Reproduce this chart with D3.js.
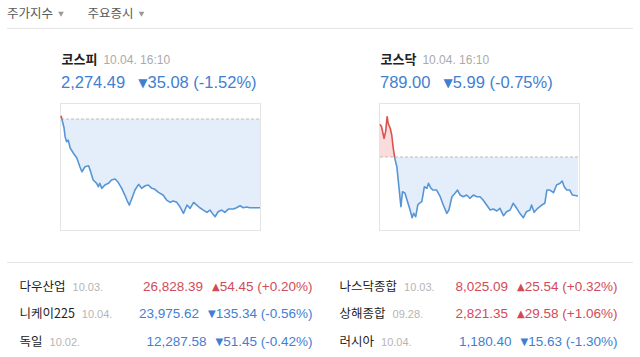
<!DOCTYPE html>
<html><head><meta charset="utf-8">
<script src="https://cdn.jsdelivr.net/npm/d3@7/dist/d3.min.js"></script>
<style>
body{margin:0;background:#fff;}
svg{display:block;font-family:"Liberation Sans","Noto Sans CJK KR",Arial,sans-serif;}
</style>
</head><body>
<svg id="c" width="640" height="357"></svg>
<script>
// ---------- data ----------
const menuLabels = ["주가지수", "주요증시"];

const indexNames = ["코스피", "코스닥"];
const indexTimes = ["10.04. 16:10", "10.04. 16:10"];
const indexValues = [2274.49, 789.00];
const indexChanges = [-35.08, -5.99];
const indexPercents = [-1.52, -0.75];

// minutes since 09:00 and index level
const kospiMinutes = [0,3,6,8,11,14,18,24,31,37,41,47,54,57,63,70,73,76,80,86,93,99,106,112,119,125,130,134,139,145,152,158,165,171,178,184,191,200,207,214,220,227,233,240,247,253,260,266,272,279,286,292,298,302,308,315,321,328,338,344,351,357,364,370,390];
const kospiSeries = [2310.88,2308.50,2306.01,2302.57,2300.59,2301.26,2298.10,2296.12,2294.15,2290.71,2288.73,2290.71,2291.10,2289.40,2285.45,2284.14,2282.80,2284.14,2282.16,2283.47,2284.14,2285.45,2285.84,2284.54,2282.16,2279.51,2277.14,2275.56,2278.21,2281.49,2283.74,2282.16,2283.19,2283.47,2282.16,2281.77,2280.58,2279.51,2277.53,2276.63,2277.14,2276.63,2274.89,2272.28,2275.56,2274.25,2276.63,2275.56,2274.49,2273.58,2272.67,2273.58,2271.88,2270.93,2272.91,2273.58,2272.67,2273.98,2273.98,2274.49,2275.28,2274.49,2274.77,2274.49,2274.49];
const kospiDomain = [2265.3, 2315.5];

const kosdaqMinutes = [0,3,8,11,14,16,20,23,26,29,33,36,41,44,49,54,59,63,66,70,74,77,82,87,92,95,100,104,111,118,124,131,135,141,147,152,157,163,170,176,183,190,196,202,209,216,222,229,235,242,248,255,261,268,274,281,287,294,297,302,309,317,323,327,333,340,346,353,357,361,366,372,377,388];
const kosdaqSeries = [800.01,799.64,797.86,798.88,801.18,800.17,799.40,798.37,796.33,794.79,793.50,791.20,787.36,789.66,789.42,788.13,786.85,785.67,786.34,785.82,787.62,787.88,788.13,790.43,790.18,790.95,790.18,789.92,789.92,788.89,787.62,786.34,786.85,788.89,789.42,789.92,789.15,788.89,789.15,788.65,789.15,788.89,788.89,788.39,787.62,786.85,787.00,786.70,787.11,785.98,786.59,786.85,787.88,787.11,786.34,785.67,786.59,786.85,787.62,786.50,787.11,787.62,787.88,789.92,789.92,789.51,790.69,790.95,791.30,790.43,789.92,789.92,789.15,789.00];
const kosdaqDomain = [783.63, 803.13];

const worldNames = ["다우산업", "니케이225", "독일", "나스닥종합", "상해종합", "러시아"];
const worldDates = ["10.03.", "10.04.", "10.02.", "10.03.", "09.28.", "10.04."];
const worldValues = [26828.39, 23975.62, 12287.58, 8025.09, 2821.35, 1180.40];
const worldChanges = [54.45, -135.34, -51.45, 25.54, 29.58, -15.63];
const worldPercents = [0.20, -0.56, -0.42, 0.32, 1.06, -1.30];

// ---------- style ----------
const RED = "#d14b57", BLUE = "#3f80d2";
const LINE_BLUE = "#5796d6", FILL_BLUE = "#e3eefa";
const LINE_RED = "#d9534f", FILL_RED = "#fbdcdc";
const fmtVal = d3.format(",.2f"), fmtChg = d3.format(".2f");
const fmtPct = v => (v > 0 ? "+" : v < 0 ? "-" : "") + Math.abs(v).toFixed(2);

const svg = d3.select("#c");

// header menu
const menuX = [7, 87.5];
menuLabels.forEach((m, i) => {
  const t = svg.append("text").attr("x", menuX[i]).attr("y", 18)
    .attr("font-size", 12.5).attr("fill", "#5a5a5a").text(m);
  const w = t.node().getComputedTextLength();
  svg.append("path")
    .attr("d", d3.symbol(d3.symbolTriangle, 14)())
    .attr("transform", `translate(${menuX[i] + w + 8},13.5) rotate(180)`)
    .attr("fill", "#999");
});
svg.append("line").attr("x1", 7).attr("x2", 633).attr("y1", 28.5).attr("y2", 28.5)
  .attr("stroke", "#e6e6e6");

// index panels
const panels = [
  {minutes: kospiMinutes, series: kospiSeries, domain: kospiDomain, x0: 60},
  {minutes: kosdaqMinutes, series: kosdaqSeries, domain: kosdaqDomain, x0: 379}
];
const boxTop = 104, boxH = 127, boxW = 201;

panels.forEach((p, i) => {
  const g = svg.append("g");
  const tx = p.x0 + 1.5;
  const title = g.append("text").attr("x", tx).attr("y", 64)
    .attr("font-size", 13).attr("font-weight", "bold").attr("fill", "#222")
    .attr("font-family", "Noto Sans CJK KR").text(indexNames[i]);
  const tw = title.node().getComputedTextLength();
  g.append("text").attr("x", tx + tw + 6).attr("y", 64)
    .attr("font-size", 12).attr("fill", "#aaa").text(indexTimes[i]);
  const up = indexChanges[i] >= 0;
  const col = up ? RED : BLUE;
  const vt = g.append("text").attr("x", tx - 0.5).attr("y", 87.5)
    .attr("font-size", 16.5).attr("fill", col);
  vt.append("tspan").text(fmtVal(indexValues[i]));
  vt.append("tspan").attr("dx", 13).attr("font-size", 12).attr("dy", -1)
    .attr("font-family", "DejaVu Sans").text(up ? "▲" : "▼");
  vt.append("tspan").attr("dy", 1).text(fmtChg(Math.abs(indexChanges[i])) + " (" +
    fmtPct(indexPercents[i]) + "%)");

  g.append("rect").attr("x", p.x0 + 0.5).attr("y", boxTop - 0.5)
    .attr("width", boxW - 1).attr("height", boxH).attr("fill", "#fff")
    .attr("stroke", "#e4e4e4");

  const x = d3.scaleLinear().domain([0, 390]).range([p.x0 + 1, p.x0 + 200]);
  const y = d3.scaleLinear().domain(p.domain).range([boxTop + boxH, boxTop]);
  const prev = indexValues[i] - indexChanges[i];
  const yb = y(prev);
  const data = p.minutes.map((m, k) => [m, p.series[k]]);

  const idA = "ca" + i, idB = "cb" + i;
  const defs = g.append("defs");
  defs.append("clipPath").attr("id", idA).append("rect")
    .attr("x", p.x0).attr("y", boxTop - 2).attr("width", boxW).attr("height", yb - boxTop + 2);
  defs.append("clipPath").attr("id", idB).append("rect")
    .attr("x", p.x0).attr("y", yb).attr("width", boxW).attr("height", boxTop + boxH - yb + 2);

  const area = d3.area().x(d => x(d[0])).y0(yb).y1(d => y(d[1]));
  const line = d3.line().x(d => x(d[0])).y(d => y(d[1]));

  g.append("path").datum(data).attr("d", area).attr("fill", FILL_RED).attr("clip-path", `url(#${idA})`);
  g.append("path").datum(data).attr("d", area).attr("fill", FILL_BLUE).attr("clip-path", `url(#${idB})`);

  g.append("line").attr("x1", p.x0 + 1).attr("x2", p.x0 + 200).attr("y1", yb).attr("y2", yb)
    .attr("stroke", "#bdbdbd").attr("stroke-dasharray", "3,2");

  g.append("path").datum(data).attr("d", line).attr("fill", "none").attr("stroke", LINE_RED)
    .attr("stroke-width", 1.6).attr("stroke-linejoin", "round").attr("clip-path", `url(#${idA})`);
  g.append("path").datum(data).attr("d", line).attr("fill", "none").attr("stroke", LINE_BLUE)
    .attr("stroke-width", 1.6).attr("stroke-linejoin", "round").attr("clip-path", `url(#${idB})`);
});

svg.append("line").attr("x1", 7).attr("x2", 633).attr("y1", 262.5).attr("y2", 262.5)
  .attr("stroke", "#e6e6e6");

// world table
const colNameX = [19.5, 339.5], colEndX = [312.5, 617.5];
const rowY = [291, 318, 345.5];
worldNames.forEach((n, k) => {
  const c = Math.floor(k / 3), r = k % 3;
  const up = worldChanges[k] >= 0;
  const col = up ? RED : BLUE;
  const nt = svg.append("text").attr("x", colNameX[c]).attr("y", rowY[r])
    .attr("font-size", 12.5).attr("fill", "#222").attr("font-family", "Noto Sans CJK KR").text(n);
  const nw = nt.node().getComputedTextLength();
  svg.append("text").attr("x", colNameX[c] + nw + 7).attr("y", rowY[r])
    .attr("font-size", 11).attr("fill", "#b5b5b5").text(worldDates[k]);
  const t = svg.append("text").attr("x", colEndX[c]).attr("y", rowY[r])
    .attr("text-anchor", "end").attr("font-size", 13.5).attr("fill", col);
  t.append("tspan").text(fmtVal(worldValues[k]));
  t.append("tspan").attr("dx", 9).attr("font-size", 10).attr("dy", -1)
    .attr("font-family", "DejaVu Sans").text(up ? "▲" : "▼");
  t.append("tspan").attr("dy", 1).text(fmtChg(Math.abs(worldChanges[k])) + " (" +
    fmtPct(worldPercents[k]) + "%)");
});
</script>
</body></html>
